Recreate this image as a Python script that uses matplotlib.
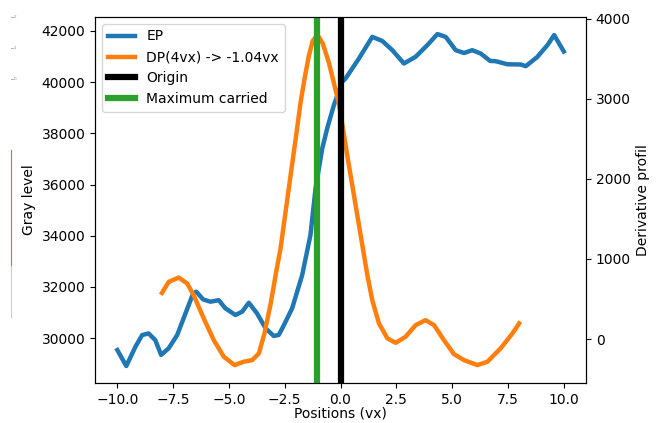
import matplotlib
matplotlib.use("Agg")
import matplotlib.pyplot as plt
from matplotlib.lines import Line2D

# EP profile (gray level)
ep_x = [-10.0, -9.6, -9.19, -8.89, -8.6, -8.3, -8.04, -7.7, -7.32, -6.95, -6.6, -6.46,
        -6.16, -5.83, -5.46, -5.16, -4.71, -4.41, -4.11, -3.74, -3.36, -2.99, -2.77,
        -2.61, -2.17, -1.72, -1.35, -1.12, -0.82, -0.6, -0.3, 0.07, 0.22, 0.82, 1.42,
        1.87, 2.32, 2.84, 3.36, 3.89, 4.34, 4.71, 5.16, 5.53, 5.9, 6.28, 6.7, 6.95,
        7.47, 8.07, 8.3, 8.82, 9.27, 9.57, 10.0]
ep_y = [29530, 28906, 29660, 30117, 30180, 29920, 29340, 29600, 30117, 30960, 31750,
        31810, 31510, 31420, 31480, 31160, 30900, 31030, 31380, 30960, 30380, 30080,
        30120, 30380, 31160, 32460, 34020, 35850, 37410, 38190, 39100, 40010, 40140,
        40920, 41770, 41610, 41250, 40730, 40990, 41450, 41880, 41770, 41250, 41140,
        41250, 41120, 40830, 40820, 40700, 40690, 40625, 40990, 41450, 41840, 41200]

# DP derivative profile
dp_x = [-8.0, -7.7, -7.25, -6.87, -6.58, -6.13, -5.68, -5.23, -4.75, -4.34, -3.96,
        -3.66, -3.41, -3.14, -2.87, -2.69, -2.24, -2.02, -1.79, -1.6, -1.42, -1.25,
        -1.04, -0.8, -0.52, -0.07, 0.3, 0.75, 1.2, 1.42, 1.72, 2.1, 2.47, 2.91, 3.36,
        3.81, 4.19, 4.63, 5.08, 5.53, 6.13, 6.58, 7.17, 7.7, 8.0]
dp_y = [577, 714, 768, 694, 548, 258, -12, -220, -324, -282, -262, -178, 71, 430, 860,
        1129, 2042, 2480, 2955, 3270, 3537, 3720, 3798, 3690, 3446, 2935, 2291, 1544,
        800, 486, 196, 9, -46, 29, 174, 237, 174, -12, -187, -262, -324, -282, -116,
        71, 196]

origin = 0.0
max_carried = -1.04

fig, ax = plt.subplots(figsize=(6.6, 4.23), dpi=100)
fig.subplots_adjust(left=0.144, right=0.888, bottom=0.095, top=0.96)

ax.plot(ep_x, ep_y, color='#1f77b4', linewidth=3.2, label='EP')
ax.set_xlim(-11, 11)
ax.set_ylim(28250, 42550)
ax.set_xlabel('Positions (vx)', labelpad=0)
ax.set_ylabel('Gray level')

ax2 = ax.twinx()
ax2.plot(dp_x, dp_y, color='#ff7f0e', linewidth=3.2, label='DP(4vx) -> -1.04vx')
ax2.axvline(origin, color='black', linewidth=4.5, label='Origin')
ax2.axvline(max_carried, color='#2ca02c', linewidth=4.5, label='Maximum carried')
ax2.set_ylim(-545, 4020)
ax2.set_ylabel('Derivative profil')

h1, l1 = ax.get_legend_handles_labels()
h2, l2 = ax2.get_legend_handles_labels()
ax2.legend(h1 + h2, l1 + l2, loc='upper left')

# leftover marks at the left edge of the picture
for val, yy in zip(['2', '1', '0'], [17, 48, 79]):
    fig.text(14 / 660, 1 - yy / 423, val, fontsize=3, color='#888888', va='center')
    fig.add_artist(Line2D([11 / 660, 13 / 660], [1 - yy / 423] * 2, color='#888888', linewidth=0.5))
fig.add_artist(Line2D([11 / 660] * 2, [1 - 150 / 423, 1 - 266 / 423], color='#e06060', linewidth=0.8))
fig.add_artist(Line2D([11 / 660] * 2, [1 - 266 / 423, 1 - 317 / 423], color='#cccccc', linewidth=0.8))

fig.savefig('out.png', dpi=100)
